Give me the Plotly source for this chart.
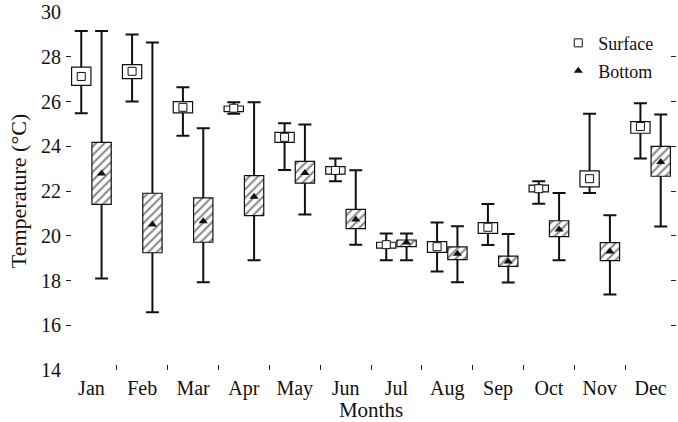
import numpy as np
import plotly.graph_objects as go

months = ['Jan', 'Feb', 'Mar', 'Apr', 'May', 'Jun', 'Jul', 'Aug', 'Sep', 'Oct', 'Nov', 'Dec']

# Surface temperature statistics
s_min = [25.47, 26.00, 24.47, 25.45, 22.94, 22.44, 18.91, 18.40, 19.59, 21.43, 21.91, 23.45]
s_q1 = [26.72, 27.02, 25.49, 25.55, 24.17, 22.75, 19.45, 19.26, 20.11, 21.96, 22.18, 24.58]
s_mid = [27.12, 27.35, 25.74, 25.70, 24.40, 22.92, 19.60, 19.51, 20.38, 22.10, 22.55, 24.88]
s_q3 = [27.54, 27.65, 25.99, 25.80, 24.62, 23.09, 19.71, 19.74, 20.59, 22.26, 22.90, 25.10]
s_max = [29.15, 29.00, 26.64, 25.97, 25.03, 23.45, 20.10, 20.59, 21.42, 22.44, 25.45, 25.92]

# Bottom temperature statistics
b_min = [18.09, 16.58, 17.92, 18.91, 20.95, 19.60, 18.91, 17.92, 17.91, 18.90, 17.37, 20.41]
b_q1 = [21.40, 19.24, 19.71, 20.90, 22.35, 20.32, 19.51, 18.93, 18.63, 19.96, 18.89, 22.66]
b_mid = [22.78, 20.50, 20.65, 21.74, 22.80, 20.73, 19.70, 19.20, 18.85, 20.28, 19.30, 23.30]
b_q3 = [24.17, 21.90, 21.69, 22.69, 23.32, 21.18, 19.81, 19.50, 19.09, 20.67, 19.69, 23.99]
b_max = [29.15, 28.64, 24.80, 25.97, 24.97, 22.93, 20.10, 20.43, 20.08, 21.91, 20.92, 25.42]

FONT = "Liberation Serif"
idx = np.arange(len(months)) + 0.5
xs = idx - 0.2
xb = idx + 0.2
W = 0.38

fig = go.Figure()


def add_series(x, vmin, q1, mid, q3, vmax, hatched, symbol, name, legend):
    vmin, q1, mid, q3, vmax = map(np.array, (vmin, q1, mid, q3, vmax))
    # whiskers
    fig.add_trace(go.Scatter(
        x=x, y=q1, mode='markers', marker=dict(size=1, color='rgba(0,0,0,0)'),
        error_y=dict(type='data', symmetric=False, array=vmax - q1, arrayminus=q1 - vmin,
                     color='#111', thickness=2, width=6.5),
        showlegend=False, hoverinfo='skip', zorder=0))
    # boxes
    marker = dict(color='white', line=dict(color='#111', width=1.2))
    if hatched:
        marker['pattern'] = dict(shape='/', fgcolor='#111', bgcolor='white', size=6, solidity=0.36)
    fig.add_trace(go.Bar(
        x=x, y=q3 - q1, base=q1, width=W, marker=marker,
        showlegend=False, hoverinfo='skip', zorder=1))
    # central markers
    if hatched:
        mk = dict(symbol=symbol, size=8, color='#111')
    else:
        mk = dict(symbol=symbol, size=8, color='white', line=dict(color='#111', width=1))
    fig.add_trace(go.Scatter(x=x, y=mid, mode='markers', marker=mk, name=name,
                             showlegend=False, zorder=2))
    # legend entry
    fig.add_trace(go.Scatter(x=[None], y=[None], mode='markers', marker=mk, name=name,
                             showlegend=True, legend=legend))


add_series(xs, s_min, s_q1, s_mid, s_q3, s_max, False, 'square', 'Surface', 'legend')
add_series(xb, b_min, b_q1, b_mid, b_q3, b_max, True, 'triangle-up', 'Bottom', 'legend2')

legend_common = dict(font=dict(family=FONT, size=18, color='#111'), bgcolor='rgba(0,0,0,0)',
                     xanchor='left', yanchor='middle', itemwidth=30)

fig.update_layout(
    width=678, height=422,
    margin=dict(l=66, r=2, t=12, b=52),
    paper_bgcolor='white', plot_bgcolor='white',
    barmode='overlay',
    font=dict(family=FONT, size=18, color='#111'),
    legend=dict(x=0.807, y=0.913, **legend_common),
    legend2=dict(x=0.807, y=0.835, **legend_common),
    xaxis=dict(range=[0, 12], tickvals=list(idx), ticktext=months, ticks='',
               showline=True, linecolor='#222', linewidth=1, mirror=True,
               showgrid=False, zeroline=False,
               minor=dict(tickvals=list(np.arange(1, 12)), ticks='inside', ticklen=5,
                          tickcolor='#222', showgrid=False),
               tickfont=dict(family=FONT, size=20),
               title=dict(text='Months', font=dict(family=FONT, size=21), standoff=2)),
    yaxis=dict(range=[14, 30], dtick=2, ticks='inside', ticklen=5, tickcolor='#222',
               showline=True, linecolor='#222', linewidth=1, mirror='ticks',
               showgrid=False, zeroline=False,
               tickfont=dict(family=FONT, size=20),
               title=dict(text='Temperature (°C)', font=dict(family=FONT, size=22), standoff=8)),
)

fig.write_html("out.html")
